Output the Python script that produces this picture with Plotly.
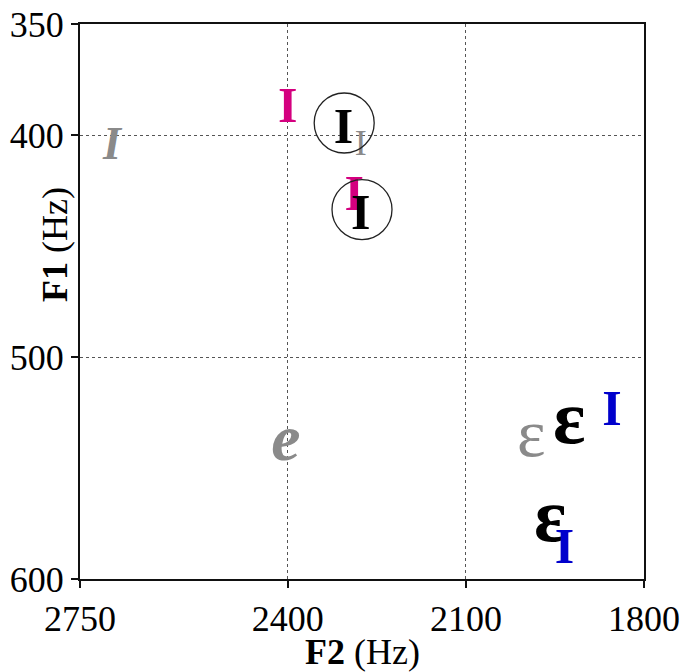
import plotly.graph_objects as go

# Vowel tokens: F2 (Hz), F1 (Hz), symbol (IPA ɪ drawn with a serif I glyph), style group
f2_gray_italic = [2696, 2403]
f1_gray_italic = [405.5, 539]
sym_gray_italic = ["I", "e"]

f2_gray = [2277, 1990]
f1_gray = [405, 537]
sym_gray = ["I", "ε"]

f2_magenta = [2400, 2288]
f1_magenta = [388.7, 428]
sym_magenta = ["I", "I"]

f2_black = [2306, 2277, 1926, 1958]
f1_black = [398, 436.5, 530, 574.5]
sym_black = ["I", "I", "ε", "ε"]

f2_blue = [1854, 1934]
f1_blue = [525, 587]
sym_blue = ["I", "I"]

# circled tokens (the first two black ones)
f2_circled = [2305, 2275]
f1_circled = [394.6, 433.6]

x_ticks = [2750, 2400, 2100, 1800]
y_ticks = [350, 400, 500, 600]

FONT = "Liberation Serif"

fig = go.Figure()

def add_text(x, y, t, color, size, weight="bold", style="normal"):
    fig.add_trace(go.Scatter(
        x=x, y=y, text=t, mode="text", textposition="middle center",
        textfont=dict(family=FONT, size=size, color=color, weight=weight, style=style),
        hoverinfo="skip", showlegend=False,
    ))

add_text(f2_gray_italic, f1_gray_italic, sym_gray_italic, "#8a8a8a", [46, 66], "bold", "italic")
add_text(f2_gray, f1_gray, sym_gray, "#8a8a8a", [36, 68], "normal")
add_text(f2_magenta, f1_magenta, sym_magenta, "#d4007f", 50, "bold")
add_text(f2_black, f1_black, sym_black, "#000000", [50, 50, 76, 76], "bold")
add_text(f2_blue, f1_blue, sym_blue, "#0000cc", 50, "bold")

fig.add_trace(go.Scatter(
    x=f2_circled, y=f1_circled, mode="markers",
    marker=dict(symbol="circle-open", size=60, color="#222222", line=dict(width=1.3)),
    hoverinfo="skip", showlegend=False,
))

axis_common = dict(
    showline=True, mirror=True, linecolor="#111111", linewidth=2,
    ticks="outside", ticklen=7, tickwidth=2, tickcolor="#111111",
    showgrid=True, gridcolor="#555555", griddash="dot", gridwidth=1,
    zeroline=False, automargin=False,
    tickfont=dict(family=FONT, size=36, color="#000000"),
)

fig.update_xaxes(range=[2750, 1800], tickvals=x_ticks, ticktext=[str(v) for v in x_ticks], **axis_common)
fig.update_yaxes(range=[600, 350], tickvals=y_ticks, ticktext=[str(v) for v in y_ticks], ticklabelstandoff=0, **axis_common)

fig.add_annotation(text="<b>F2</b> (Hz)", xref="paper", yref="paper", x=0.5, y=-0.1315,
                   showarrow=False, xanchor="center", yanchor="middle",
                   font=dict(family=FONT, size=36, color="#000000"))
fig.add_annotation(text="<b>F1</b> (Hz)", xref="paper", yref="paper", x=-0.0443, y=0.602,
                   showarrow=False, xanchor="center", yanchor="middle", textangle=-90,
                   font=dict(family=FONT, size=36, color="#000000"))

fig.update_layout(
    width=681, height=672,
    margin=dict(l=80, r=37, t=24, b=93),
    plot_bgcolor="white", paper_bgcolor="white",
)

fig.write_html("out.html")
